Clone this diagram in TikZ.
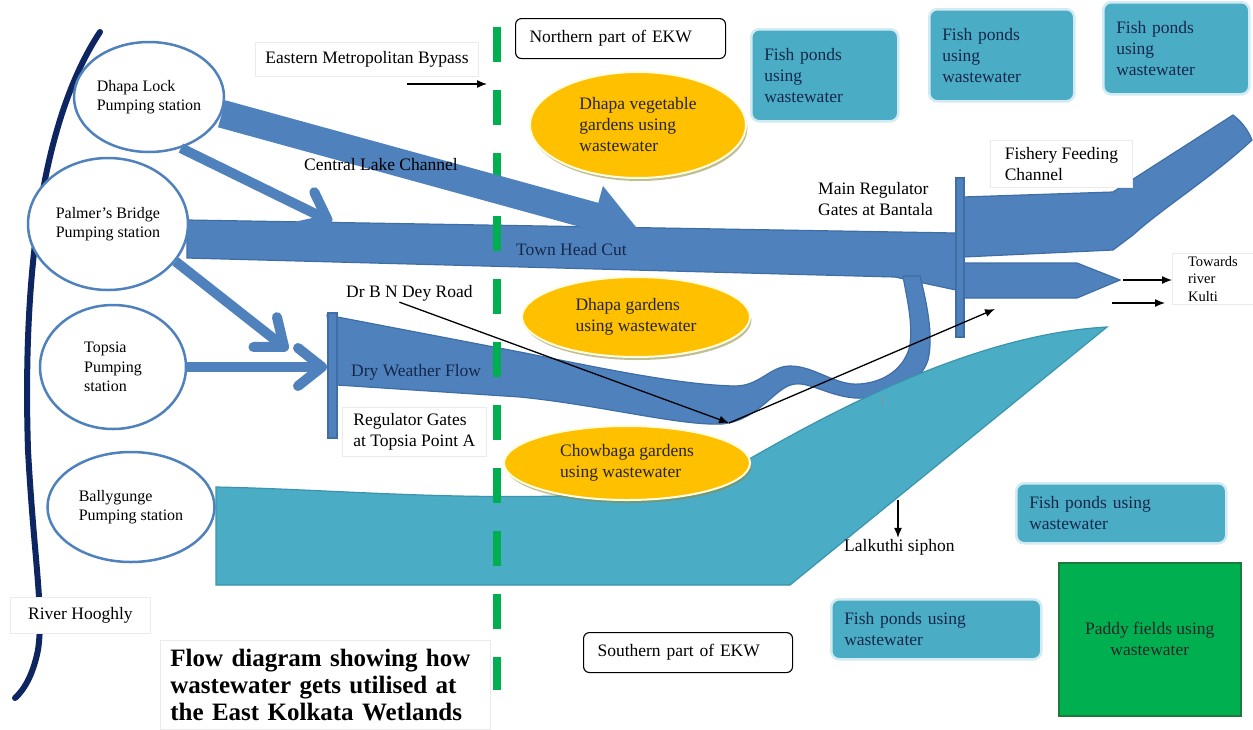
\documentclass[tikz,border=0pt]{standalone}
\usepackage{fontspec}
\setmainfont{Liberation Serif}
\usetikzlibrary{shapes.geometric,arrows.meta,shadows}
\definecolor{chanblue}{HTML}{4F81BD}
\definecolor{chanedge}{HTML}{3F6EA6}
\definecolor{aqua}{HTML}{4BACC6}
\definecolor{aquaedge}{HTML}{3A94AD}
\definecolor{gold}{HTML}{FFC000}
\definecolor{ekwgreen}{HTML}{00B050}
\definecolor{paddyedge}{HTML}{1E7A3C}
\definecolor{navy}{HTML}{0D2560}
\definecolor{inkblue}{HTML}{15284A}
\newcommand{\ekwfont}{\fontsize{17.5}{21}\selectfont}
\newcommand{\stnfont}{\fontsize{16}{19.5}\selectfont}
\newcommand{\smallekw}{\fontsize{14.5}{17.5}\selectfont}
\tikzset{
  river/.style={draw=navy, line width=6pt, line cap=round},
  channel/.style={fill=chanblue, draw=chanedge, line width=1.2pt},
  lagoon/.style={fill=aqua, draw=aquaedge, line width=1.2pt},
  divide/.style={draw=ekwgreen, line width=8pt, dash pattern=on 35pt off 28pt},
  station/.style={ellipse, draw=chanblue, line width=2.5pt, fill=white, align=left, inner sep=0pt, font=\stnfont},
  garden/.style={ellipse, fill=gold, draw=white!88!yellow, line width=2pt, align=left, inner sep=0pt, font=\ekwfont, text=black!85,
    drop shadow={shadow xshift=1.5pt, shadow yshift=-3pt, fill=olive!55!gray, opacity=.55}},
  pond/.style={fill=aqua, draw=aqua!25, line width=2.5pt, rounded corners=8pt, align=left, anchor=north west, inner xsep=13pt, inner ysep=0pt, font=\ekwfont, text=inkblue},
  paddy/.style={fill=ekwgreen, draw=paddyedge, line width=1.5pt, align=center, anchor=north west, font=\ekwfont, text=black!85},
  partbox/.style={fill=white, draw=black, line width=1.1pt, rounded corners=6pt, anchor=north west, align=left, inner xsep=14pt, font=\ekwfont},
  plainbox/.style={fill=white, draw=black!8, line width=.8pt, align=left, anchor=north west, font=\ekwfont},
  plainlabel/.style={align=left, anchor=west, inner sep=1pt, font=\ekwfont},
  feeder/.style={draw=chanblue, line width=10pt, -{Straight Barb[length=24pt,width=38pt,round]}},
  mainarrow/.style={draw=chanblue, line width=28pt, -{Triangle[length=44pt,width=60pt]}},
  pointer/.style={draw=black, line width=1.3pt, -{Latex[length=10pt,width=8pt]}},
}
\begin{document}
\begin{tikzpicture}[x=1pt, y=-1pt]
\useasboundingbox (0,0) rectangle (1253,729);
\fill[white] (0,0) rectangle (1253,729);

% river Hooghly
\draw[river] (100,32) .. controls (45,115) and (22,260) .. (28,450)
  .. controls (34,560) and (44,610) .. (38,650) .. controls (33,675) and (24,690) .. (15,698);

% channels
\filldraw[channel] (187,220) -- (956,233) -- (956,290) -- (895,277) -- (187,258) -- cycle;
\filldraw[channel] (327,315) -- (520,352) .. controls (600,368) and (680,385) .. (735,386)
  .. controls (760,386) and (770,366) .. (790,366) .. controls (815,366) and (835,386) .. (860,384)
  .. controls (885,382) and (905,368) .. (910,345) .. controls (913,320) and (906,295) .. (903,276)
  -- (920,276) .. controls (926,300) and (934,335) .. (928,360) .. controls (920,385) and (890,396) .. (865,398)
  .. controls (835,400) and (812,382) .. (795,384) .. controls (775,386) and (760,420) .. (722,424)
  .. controls (680,426) and (600,405) .. (520,397) -- (337,385) -- cycle;
\filldraw[lagoon] (216,487) .. controls (320,489) and (430,499) .. (560,496)
  .. controls (640,495) and (690,492) .. (730,470) .. controls (800,430) and (960,335) .. (1107,327)
  -- (790,585) -- (216,585) -- cycle;
\filldraw[channel] (963,197) -- (1113,192) -- (1233,115) .. controls (1242,122) and (1248,130) .. (1252,140)
  .. controls (1215,175) and (1160,210) .. (1133,235) -- (1113,250) -- (963,257) -- cycle;
\filldraw[channel] (963,263) -- (1077,263) -- (1120,280) -- (1077,298) -- (963,298) -- cycle;
\filldraw[channel] (328,313) rectangle (337,438);
\filldraw[channel] (956,178) rectangle (964,337);
\draw[black!45, line width=1pt] (882,396) -- (882,406);

% EKW divide
\draw[divide] (497,27) -- (497,690);

% pumping stations
\node[station, minimum width=150pt, minimum height=110pt] (dhapa) at (149,97) {Dhapa Lock\\Pumping station};
\node[station, minimum width=160pt, minimum height=132pt] (palmer) at (108,224) {Palmer’s Bridge\\Pumping station};
\node[station, minimum width=146pt, minimum height=124pt] (topsia) at (113,367) {Topsia\\Pumping\\station};
\node[station, minimum width=167pt, minimum height=110pt] (bally) at (131,507) {Ballygunge\\Pumping station};

\coordinate (lakeend) at (637,228);
\coordinate (thcin) at (332,222);
\coordinate (dwfin1) at (288,350);
\coordinate (dwfin2) at (327,367);
\draw[mainarrow] (dhapa.-13) -- (lakeend);
\draw[feeder] (dhapa.-58) -- (thcin);
\draw[feeder] (palmer.-29) -- (dwfin1);
\draw[feeder] (topsia.east) -- (dwfin2);

% land use
\node[garden, minimum width=216pt, minimum height=106pt] (vegdhapa) at (638,125) {Dhapa vegetable\\gardens using\\wastewater};
\node[garden, minimum width=228pt, minimum height=80pt] (gdhapa) at (636,317) {Dhapa gardens\\using wastewater};
\node[garden, minimum width=246pt, minimum height=74pt] (gchow) at (627,463) {Chowbaga gardens\\using wastewater};
\node[pond, minimum width=147pt, minimum height=92pt, text width=121pt] (pond1) at (750,28) {Fish ponds\\using\\wastewater};
\node[pond, minimum width=145pt, minimum height=92pt, text width=119pt] (pond2) at (928,8) {Fish ponds\\using\\wastewater};
\node[pond, minimum width=146pt, minimum height=92pt, text width=120pt] (pond3) at (1102,1) {Fish ponds\\using\\wastewater};
\node[pond, minimum width=210pt, minimum height=60pt, text width=184pt] (pond4) at (1015,482) {Fish ponds using\\wastewater};
\node[pond, minimum width=210pt, minimum height=60pt, text width=184pt] (pond5) at (830,598) {Fish ponds using\\wastewater};
\node[paddy, minimum width=182pt, minimum height=153pt] (paddy) at (1058,562) {Paddy fields using\\wastewater};

% labels
\node[partbox, minimum height=40pt, text width=182pt] (north) at (515,18) {Northern part of EKW};
\node[partbox, minimum height=40pt, text width=181pt] (south) at (583,632) {Southern part of EKW};
\node[plainbox, minimum height=34pt, inner xsep=10pt] (bypass) at (255,42) {Eastern Metropolitan Bypass};
\node[plainlabel] (central) at (303,165) {Central Lake Channel};
\node[plainlabel, text=inkblue] (thc) at (515,250) {Town Head Cut};
\node[plainlabel] (roadlbl) at (345,293) {Dr B N Dey Road};
\node[plainlabel, text=inkblue] (dwf) at (350,372) {Dry Weather Flow};
\node[plainbox, inner xsep=11pt, inner ysep=6pt] (topsiagate) at (342,407) {Regulator Gates\\at Topsia Point A};
\node[plainlabel] (bantala) at (817,199) {Main Regulator\\Gates at Bantala};
\node[plainbox, minimum width=142pt, inner xsep=7pt, inner ysep=7pt] (fishery) at (990,140) {Fishery Feeding\\Channel};
\node[plainbox, minimum width=81pt, inner xsep=10pt, inner ysep=3pt, font=\smallekw] (kulti) at (1172,253) {Towards\\river\\Kulti};
\node[plainlabel] (lalkuthi) at (843,547) {Lalkuthi siphon};
\node[plainbox, minimum width=140pt, minimum height=36pt, inner xsep=15pt] (hooghly) at (10,597) {River Hooghly};
\node[plainbox, minimum width=330pt, minimum height=89pt, text width=310pt, inner xsep=10pt,
  font=\fontsize{25}{27}\selectfont\bfseries] (title) at (160,640) {Flow diagram showing how\\wastewater gets utilised at\\the East Kolkata Wetlands};

% pointers
\coordinate (bypassfrom) at (407,84);
\coordinate (bypassto) at (487,84);
\coordinate (roadbend) at (729,423);
\coordinate (roadend) at (995,309);
\coordinate (kultifrom) at (1112,303);
\draw[pointer] (bypassfrom) -- (bypassto);
\draw[pointer] ([xshift=-10pt]roadlbl.south) -- (roadbend);
\draw[pointer] (roadbend) -- (roadend);
\draw[pointer] (1123,280) -- (kulti.west |- 1123,280);
\draw[pointer] (kultifrom) -- ([xshift=-7pt]kulti.west |- kultifrom);
\draw[pointer] (898,500) -- (lalkuthi.north -| 898,500);
\end{tikzpicture}
\end{document}
